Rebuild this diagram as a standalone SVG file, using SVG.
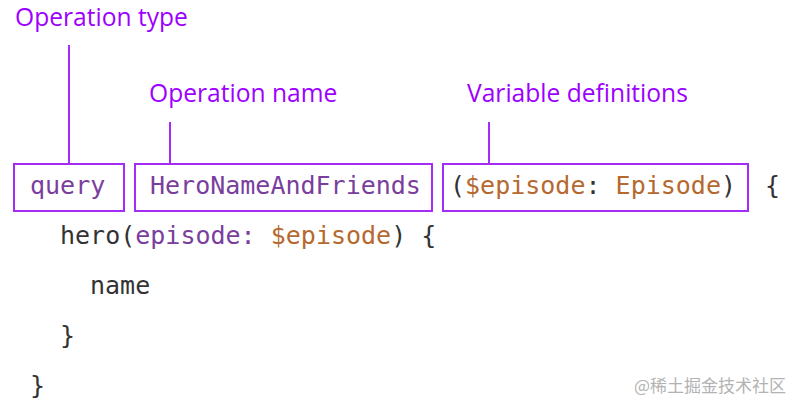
<svg xmlns="http://www.w3.org/2000/svg" width="800" height="408" viewBox="0 0 800 408">
<style>
.lbl{font-family:"Open Sans","Noto Sans",sans-serif;font-size:24.6px;fill:#9d00ff}
.box{fill:none;stroke:#a52cf5;stroke-width:2}
.ln{stroke:#a52cf5;stroke-width:2;fill:none}
.code{font-family:"DejaVu Sans Mono","Liberation Mono",monospace;font-size:25px;fill:#333}
.kw{fill:#7a3e9d}
.var{fill:#b5692f}
.wm{font-family:"Noto Sans CJK SC",sans-serif;font-size:17px;fill:#b3b3b3}
</style>
<rect width="800" height="408" fill="#fff"/>
<g id="connectors">
<line class="ln" x1="69" y1="45" x2="69" y2="164"/>
<line class="ln" x1="170" y1="122" x2="170" y2="164"/>
<line class="ln" x1="489" y1="122" x2="489" y2="164"/>
</g>
<g id="label-operation-type"><text class="lbl" x="15" y="26">Operation type</text></g>
<g id="label-operation-name"><text class="lbl" x="149" y="102">Operation name</text></g>
<g id="label-variable-definitions"><text class="lbl" x="467" y="102">Variable definitions</text></g>
<g id="node-query">
<rect class="box" x="14" y="164" width="110" height="47"/>
<text class="code kw" x="30" y="194">query</text>
</g>
<g id="node-name">
<rect class="box" x="135" y="164" width="297" height="47"/>
<text class="code kw" x="150" y="194">HeroNameAndFriends</text>
</g>
<g id="node-vars">
<rect class="box" x="443" y="164" width="305" height="47"/>
<text class="code" x="450" y="194">(<tspan class="var">$episode</tspan>: <tspan class="var">Episode</tspan>)</text>
</g>
<g id="code-body">
<text class="code" x="765" y="194">{</text>
<text class="code" x="60" y="244">hero(<tspan class="kw">episode:</tspan> <tspan class="var">$episode</tspan>) {</text>
<text class="code" x="90" y="294">name</text>
<text class="code" x="60" y="344">}</text>
<text class="code" x="30" y="394">}</text>
</g>
<text class="wm" x="634" y="392">@稀土掘金技术社区</text>
</svg>
